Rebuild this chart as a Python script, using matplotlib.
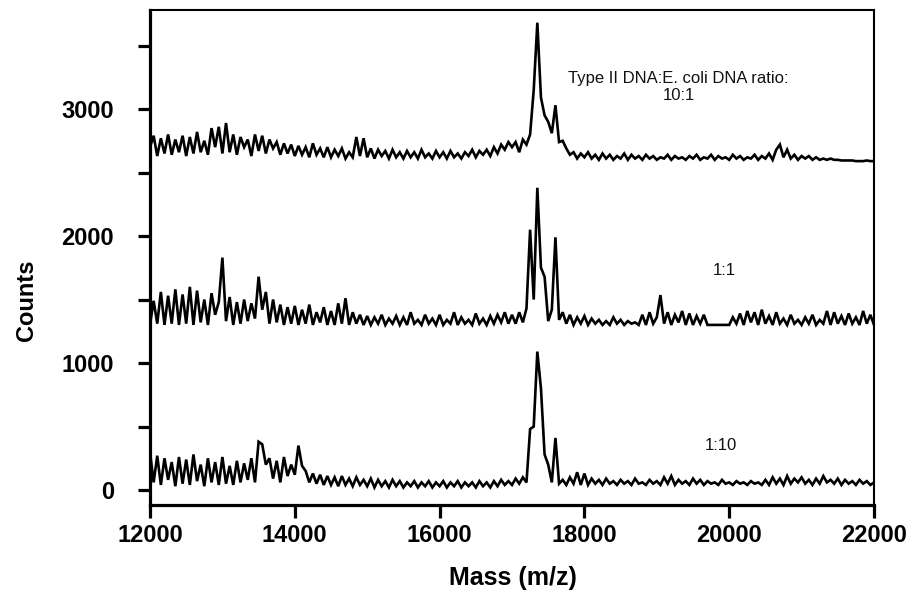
import numpy as np
import matplotlib
matplotlib.use("Agg")
import matplotlib.pyplot as plt
from matplotlib.ticker import MultipleLocator

plt.rcParams['font.family'] = ['Liberation Sans', 'DejaVu Sans']

# mass axis sampled every 50 Da
mass = np.arange(12000, 22001, 50)

# Type II : E. coli ratio 10:1 (top trace, counts)
top_counts = [
    2700, 2790, 2630, 2770, 2650, 2800, 2640, 2760, 2660, 2790,  # 12000
    2630, 2780, 2650, 2820, 2660, 2750, 2640, 2850, 2700, 2860,  # 12500
    2650, 2890, 2660, 2800, 2640, 2780, 2700, 2760, 2630, 2800,  # 13000
    2670, 2790, 2650, 2760, 2690, 2740, 2640, 2730, 2650, 2720,  # 13500
    2630, 2710, 2640, 2700, 2620, 2730, 2640, 2690, 2620, 2700,  # 14000
    2620, 2680, 2630, 2690, 2610, 2660, 2620, 2780, 2630, 2770,  # 14500
    2620, 2690, 2610, 2680, 2630, 2670, 2610, 2680, 2620, 2660,  # 15000
    2610, 2670, 2620, 2660, 2610, 2680, 2620, 2650, 2610, 2670,  # 15500
    2620, 2660, 2610, 2670, 2620, 2650, 2610, 2660, 2630, 2680,  # 16000
    2620, 2670, 2640, 2680, 2630, 2700, 2650, 2720, 2680, 2740,  # 16500
    2700, 2740, 2660, 2760, 2720, 2800, 3150, 3680, 3090, 2950,  # 17000
    2900, 2810, 3030, 2740, 2750, 2690, 2640, 2660, 2610, 2650,  # 17500
    2620, 2660, 2610, 2640, 2600, 2650, 2610, 2640, 2600, 2630,  # 18000
    2610, 2650, 2600, 2640, 2610, 2630, 2600, 2640, 2610, 2630,  # 18500
    2600, 2620, 2610, 2640, 2600, 2630, 2610, 2620, 2600, 2630,  # 19000
    2610, 2640, 2600, 2620, 2610, 2640, 2600, 2630, 2610, 2620,  # 19500
    2600, 2640, 2610, 2630, 2600, 2620, 2610, 2640, 2600, 2630,  # 20000
    2610, 2650, 2600, 2680, 2720, 2620, 2680, 2610, 2640, 2600,  # 20500
    2630, 2610, 2630, 2600, 2620, 2600, 2610, 2600, 2610, 2600,  # 21000
    2600, 2595, 2595, 2595, 2595, 2590, 2590, 2590, 2595, 2590,  # 21500
    2590,                                                        # 22000
]

# ratio 1:1 (middle trace, counts)
mid_counts = [
    1300, 1490, 1310, 1560, 1300, 1530, 1310, 1580, 1300, 1540,  # 12000
    1310, 1600, 1300, 1570, 1320, 1500, 1300, 1550, 1380, 1480,  # 12500
    1830, 1330, 1520, 1300, 1480, 1310, 1500, 1330, 1470, 1350,  # 13000
    1680, 1420, 1560, 1310, 1500, 1320, 1460, 1300, 1440, 1310,  # 13500
    1450, 1300, 1420, 1310, 1460, 1300, 1400, 1320, 1440, 1300,  # 14000
    1410, 1300, 1470, 1310, 1510, 1300, 1400, 1310, 1380, 1300,  # 14500
    1370, 1300, 1360, 1310, 1380, 1300, 1350, 1310, 1370, 1300,  # 15000
    1360, 1300, 1400, 1310, 1340, 1300, 1380, 1310, 1350, 1300,  # 15500
    1380, 1300, 1340, 1310, 1400, 1300, 1360, 1310, 1340, 1300,  # 16000
    1390, 1310, 1350, 1300, 1370, 1310, 1380, 1320, 1400, 1310,  # 16500
    1380, 1310, 1400, 1320, 1430, 2050, 1500, 2380, 1750, 1680,  # 17000
    1330, 1420, 1990, 1340, 1400, 1310, 1380, 1300, 1360, 1310,  # 17500
    1370, 1300, 1350, 1310, 1340, 1300, 1330, 1300, 1360, 1310,  # 18000
    1340, 1300, 1330, 1310, 1320, 1300, 1380, 1300, 1400, 1310,  # 18500
    1360, 1535, 1310, 1400, 1300, 1380, 1320, 1410, 1300, 1390,  # 19000
    1300, 1370, 1310, 1380, 1300, 1300, 1300, 1300, 1300, 1300,  # 19500
    1300, 1360, 1310, 1390, 1300, 1410, 1320, 1400, 1300, 1420,  # 20000
    1310, 1370, 1300, 1400, 1310, 1350, 1300, 1380, 1310, 1340,  # 20500
    1300, 1360, 1310, 1380, 1300, 1340, 1310, 1410, 1300, 1400,  # 21000
    1310, 1370, 1300, 1390, 1310, 1360, 1300, 1410, 1310, 1380,  # 21500
    1300,                                                        # 22000
]

# ratio 1:10 (bottom trace, counts)
low_counts = [
    300, 60, 270, 40, 250, 80, 220, 30, 260, 50,        # 12000
    240, 40, 280, 70, 200, 30, 250, 60, 220, 40,        # 12500
    260, 50, 190, 40, 230, 60, 210, 80, 250, 60,        # 13000
    380, 360, 200, 250, 90, 230, 60, 260, 110, 200,     # 13500
    120, 350, 190, 150, 60, 130, 50, 120, 40, 110,      # 14000
    40, 100, 30, 110, 40, 90, 30, 100, 40, 80,          # 14500
    30, 90, 20, 80, 30, 70, 20, 80, 30, 70,             # 15000
    20, 60, 30, 70, 20, 60, 30, 70, 20, 60,             # 15500
    30, 70, 20, 60, 30, 70, 20, 60, 30, 60,             # 16000
    20, 70, 30, 60, 20, 70, 30, 80, 40, 70,             # 16500
    40, 90, 50, 100, 60, 480, 500, 1090, 800, 280,      # 17000
    200, 60, 410, 50, 80, 40, 100, 50, 140, 40,         # 17500
    130, 40, 90, 50, 80, 40, 90, 50, 70, 40,            # 18000
    80, 50, 70, 40, 90, 50, 60, 40, 80, 50,             # 18500
    70, 40, 100, 50, 110, 40, 80, 50, 70, 40,           # 19000
    90, 50, 80, 40, 70, 50, 60, 40, 80, 50,             # 19500
    60, 40, 70, 50, 60, 40, 70, 50, 60, 40,             # 20000
    80, 40, 100, 50, 90, 40, 110, 50, 90, 60,           # 20500
    100, 50, 80, 40, 90, 50, 110, 60, 80, 50,           # 21000
    90, 40, 80, 50, 70, 40, 80, 50, 70, 40,             # 21500
    60,                                                 # 22000
]

traces = [top_counts, mid_counts, low_counts]
labels = ['Type II DNA:E. coli DNA ratio:\n10:1', '1:1', '1:10']
label_pos = [(19300, 3175), (19930, 1732), (19890, 349)]

fig = plt.figure(figsize=(9.12, 5.94), dpi=100)
ax = fig.add_axes([150 / 912, 1 - 505 / 594, 724 / 912, 495 / 594])

for counts in traces:
    assert len(counts) == len(mass)
    ax.plot(mass, counts, color='black', lw=1.9, solid_joinstyle='miter')

for txt, (x, y) in zip(labels, label_pos):
    ax.text(x, y, txt, ha='center', va='center', fontsize=12, color='#111111',
            linespacing=1.15)

ax.set_xlim(12000, 22000)
ax.set_ylim(-118, 3780)
ax.set_xticks(np.arange(12000, 22001, 2000))
ax.set_yticks([0, 1000, 2000, 3000])
ax.yaxis.set_minor_locator(MultipleLocator(500))

for side in ['left', 'bottom']:
    ax.spines[side].set_linewidth(2.3)
for side in ['top', 'right']:
    ax.spines[side].set_linewidth(1.5)

ax.tick_params(axis='x', which='major', direction='out', length=9, width=2.3,
               labelsize=17, pad=5)
ax.tick_params(axis='y', which='both', direction='out', length=9, width=2.3,
               labelsize=17, pad=17)
for lab in ax.get_xticklabels() + ax.get_yticklabels():
    lab.set_fontweight('bold')

ax.set_xlabel('Mass (m/z)', fontsize=18, fontweight='bold')
ax.set_ylabel('Counts', fontsize=17, fontweight='bold')
ax.xaxis.label.set_va('center')
ax.yaxis.label.set_va('center')
ax.xaxis.set_label_coords(0.501, -0.148)
ax.yaxis.set_label_coords(-0.170, 0.414)

fig.savefig('out.png', dpi=100)
